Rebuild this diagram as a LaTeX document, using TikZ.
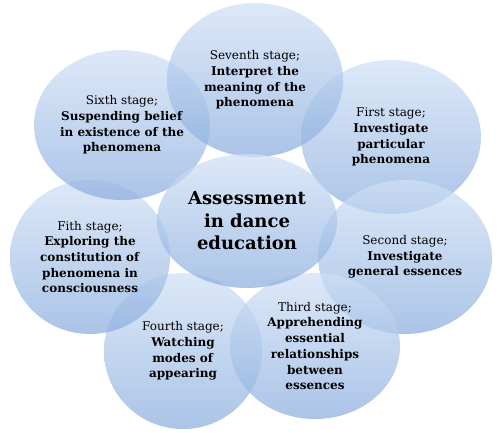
\documentclass[tikz,border=0pt]{standalone}
\usepackage{fontspec}
\setmainfont{DejaVu Serif}
\usetikzlibrary{shapes.geometric}
\definecolor{bubbletop}{RGB}{208,224,245}
\definecolor{bubblebot}{RGB}{138,173,222}
\tikzset{
	bubble/.style={ellipse,inner sep=0pt,top color=bubbletop,bottom color=bubblebot,fill opacity=.72},
	stagetext/.style={align=center,inner sep=0pt,font=\fontsize{12}{15.7}\selectfont},
}
\begin{document}
\begin{tikzpicture}[x=1pt,y=-1pt]
		\useasboundingbox (0,0) rectangle (500,432);
		% bubbles
		\node[bubble,minimum width=180,minimum height=154] (first) at (391,137) {};
		\node[bubble,minimum width=174,minimum height=154] (second) at (405,257) {};
		\node[bubble,minimum width=170,minimum height=146] (third) at (315,346) {};
		\node[bubble,minimum width=158,minimum height=156] (fourth) at (183,351) {};
		\node[bubble,minimum width=160,minimum height=154] (fifth) at (90,257) {};
		\node[bubble,minimum width=176,minimum height=150] (sixth) at (122,125) {};
		\node[bubble,minimum width=176,minimum height=154] (seventh) at (255,80) {};
		\node[bubble,minimum width=180,minimum height=134] (core) at (247,221) {};
		% texts
		\node[stagetext] (first text) at (first) {First stage;\\\textbf{Investigate}\\\textbf{particular}\\\textbf{phenomena}};
		\node[stagetext] (second text) at (second) {Second stage;\\\textbf{Investigate}\\\textbf{general essences}};
		\node[stagetext] (third text) at (third) {Third stage;\\\textbf{Apprehending}\\\textbf{essential}\\\textbf{relationships}\\\textbf{between}\\\textbf{essences}};
		\node[stagetext] (fourth text) at (fourth) {Fourth stage;\\\textbf{Watching}\\\textbf{modes of}\\\textbf{appearing}};
		\node[stagetext] (fifth text) at (fifth) {Fith stage;\\\textbf{Exploring the}\\\textbf{constitution of}\\\textbf{phenomena in}\\\textbf{consciousness}};
		\node[stagetext] (sixth text) at (sixth) {Sixth stage;\\\textbf{Suspending belief}\\\textbf{in existence of the}\\\textbf{phenomena}};
		\node[stagetext] (seventh text) at (seventh) {Seventh stage;\\\textbf{Interpret the}\\\textbf{meaning of the}\\\textbf{phenomena}};
		\node[stagetext,font=\fontsize{18}{22.5}\selectfont\bfseries] (core text) at (core) {Assessment\\in dance\\education};
	\end{tikzpicture}
\end{document}
